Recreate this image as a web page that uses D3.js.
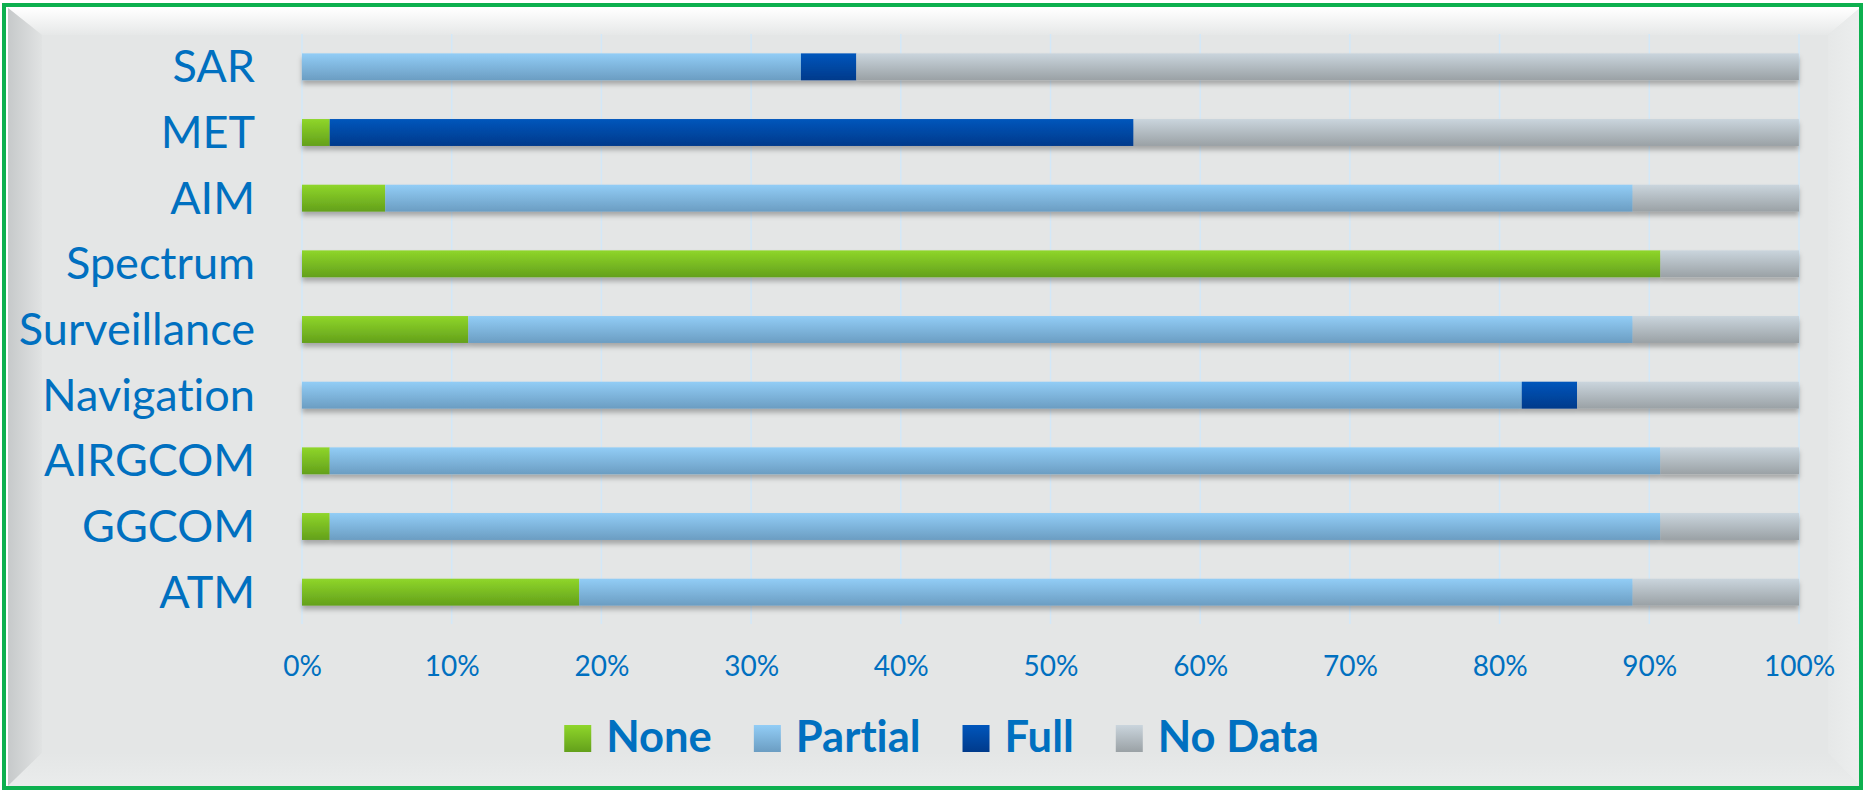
<!DOCTYPE html>
<html>
<head>
<meta charset="utf-8">
<script src="https://d3js.org/d3.v7.min.js"></script>
<style>
  body { margin: 0; background: #ffffff; }
  text { font-family: Lato, "Open Sans", sans-serif; font-variant-ligatures: none; }
</style>
</head>
<body>
<div id="my_dataviz"></div>
<script>
// chart data (percent of states per area)
var categories = ["SAR", "MET", "AIM", "Spectrum", "Surveillance", "Navigation", "AIRGCOM", "GGCOM", "ATM"];
var seriesNames = ["None", "Partial", "Full", "No Data"];
var none    = [0,     1.85,  5.56,  90.74, 11.11, 0,     1.85,  1.85,  18.52];
var partial = [33.33, 0,     83.33, 0,     77.78, 81.48, 88.89, 88.89, 70.37];
var full    = [3.70,  53.70, 0,     0,     0,     3.70,  0,     0,     0];
var noData  = [62.96, 44.44, 11.11, 9.26,  11.11, 14.81, 9.26,  9.26,  11.11];
var xTicks  = [0, 10, 20, 30, 40, 50, 60, 70, 80, 90, 100];

var width = 1864, height = 791;
var textBlue = "#0070c0";

var svg = d3.select("#my_dataviz")
  .append("svg")
    .attr("width", width)
    .attr("height", height);

var defs = svg.append("defs");

// bar gradients, light at the top and darker at the bottom
var gradients = [
  {id: "g-none", top: "#8fd62a", bottom: "#63a01b"},
  {id: "g-partial", top: "#92cdf6", bottom: "#6b9dc2"},
  {id: "g-full", top: "#0056bc", bottom: "#003a8b"},
  {id: "g-nodata", top: "#cad5dd", bottom: "#9aa1a5"}
];
gradients.forEach(function(g) {
  var lg = defs.append("linearGradient")
    .attr("id", g.id)
    .attr("x1", 0).attr("y1", 0).attr("x2", 0).attr("y2", 1);
  lg.append("stop").attr("offset", "0%").attr("stop-color", g.top);
  lg.append("stop").attr("offset", "100%").attr("stop-color", g.bottom);
});

// frame gradients
function vGrad(id, c1, c2, horizontal) {
  var lg = defs.append("linearGradient").attr("id", id)
    .attr("x1", 0).attr("y1", 0)
    .attr("x2", horizontal ? 1 : 0).attr("y2", horizontal ? 0 : 1);
  lg.append("stop").attr("offset", "0%").attr("stop-color", c1);
  lg.append("stop").attr("offset", "100%").attr("stop-color", c2);
}
vGrad("f-top", "#ffffff", "#e6e8e8", false);
vGrad("f-left", "#c6c9ca", "#e1e3e3", true);
vGrad("f-right", "#e6e8e8", "#eceeee", true);
vGrad("f-bottom", "#e4e6e6", "#eaecec", false);

var shadow = defs.append("filter")
  .attr("id", "bar-shadow")
  .attr("x", "-5%").attr("y", "-40%")
  .attr("width", "110%").attr("height", "200%");
shadow.append("feDropShadow")
  .attr("dx", 0).attr("dy", 4)
  .attr("stdDeviation", 2.5)
  .attr("flood-color", "#000")
  .attr("flood-opacity", 0.28);

// bevelled background
var o = {x0: 8, y0: 8, x1: 1860, y1: 786};
var inr = {x0: 42, y0: 35, x1: 1828, y1: 753};
svg.append("rect")
  .attr("x", o.x0).attr("y", o.y0)
  .attr("width", o.x1 - o.x0).attr("height", o.y1 - o.y0)
  .attr("fill", "#e4e6e6");

var bevels = [
  {fill: "url(#f-top)", pts: [[o.x0, o.y0], [o.x1, o.y0], [inr.x1, inr.y0], [inr.x0, inr.y0]]},
  {fill: "url(#f-left)", pts: [[o.x0, o.y0], [inr.x0, inr.y0], [inr.x0, inr.y1], [o.x0, o.y1]]},
  {fill: "url(#f-right)", pts: [[o.x1, o.y0], [o.x1, o.y1], [inr.x1, inr.y1], [inr.x1, inr.y0]]},
  {fill: "url(#f-bottom)", pts: [[o.x0, o.y1], [inr.x0, inr.y1], [inr.x1, inr.y1], [o.x1, o.y1]]}
];
svg.selectAll(".bevel")
  .data(bevels)
  .enter()
  .append("polygon")
    .attr("class", "bevel")
    .attr("points", function(d) { return d.pts.map(function(p) { return p.join(","); }).join(" "); })
    .attr("fill", function(d) { return d.fill; });

// green outer border
svg.append("rect")
  .attr("x", 4).attr("y", 5)
  .attr("width", 1857).attr("height", 783)
  .attr("fill", "none")
  .attr("stroke", "#0db04f")
  .attr("stroke-width", 4);

// scales
var x = d3.scaleLinear()
  .domain([0, 100])
  .range([302, 1799]);

var y = d3.scaleBand()
  .domain(categories)
  .range([34, 625])
  .paddingInner(0.59)
  .paddingOuter(0.295);

// gridlines
svg.append("g")
  .selectAll("line")
  .data(xTicks)
  .enter()
  .append("line")
    .attr("x1", function(d) { return x(d); })
    .attr("x2", function(d) { return x(d); })
    .attr("y1", 34)
    .attr("y2", 624)
    .attr("stroke", "#d3e8f8")
    .attr("stroke-width", 1.5);

// stack the series
var rows = categories.map(function(c, i) {
  return {cat: c, None: none[i], Partial: partial[i], Full: full[i], "No Data": noData[i]};
});
var stacked = d3.stack().keys(seriesNames)(rows);
var fills = {"None": "url(#g-none)", "Partial": "url(#g-partial)", "Full": "url(#g-full)", "No Data": "url(#g-nodata)"};

var rowGroups = svg.append("g")
  .selectAll("g")
  .data(categories)
  .enter()
  .append("g")
    .attr("filter", "url(#bar-shadow)");

rowGroups.each(function(cat, i) {
  var g = d3.select(this);
  stacked.forEach(function(s) {
    var seg = s[i];
    if (seg[1] - seg[0] <= 0) return;
    g.append("rect")
      .attr("x", x(seg[0]))
      .attr("y", y(cat))
      .attr("width", Math.min(x(seg[1]), x(100)) - x(seg[0]))
      .attr("height", y.bandwidth())
      .attr("fill", fills[s.key]);
  });
});

// category labels
svg.append("g")
  .selectAll("text")
  .data(categories)
  .enter()
  .append("text")
    .attr("x", 255)
    .attr("y", function(d) { return y(d) + y.bandwidth() / 2 + 15.5; })
    .attr("text-anchor", "end")
    .attr("fill", textBlue)
    .style("font-size", "45px")
    .text(function(d) { return d; });

// x axis
var xAxis = svg.append("g")
  .attr("transform", "translate(0,652)")
  .call(d3.axisBottom(x).tickValues(xTicks).tickSize(0).tickFormat(function(d) { return d + "%"; }));
xAxis.select(".domain").remove();
xAxis.selectAll("text")
  .attr("y", 0)
  .attr("dy", "0.85em")
  .attr("fill", textBlue)
  .style("font-family", "Lato, sans-serif")
  .style("font-size", "28px");

// legend
var legend = svg.append("g");
var items = legend.selectAll("g")
  .data(seriesNames)
  .enter()
  .append("g");
items.append("rect")
  .attr("y", 725)
  .attr("width", 27)
  .attr("height", 27)
  .attr("fill", function(d) { return fills[d]; });
items.append("text")
  .attr("x", 42)
  .attr("y", 752)
  .attr("fill", textBlue)
  .style("font-size", "43.5px")
  .style("font-weight", "bold")
  .text(function(d) { return d; });

var pos = 0, offsets = [];
items.each(function() {
  offsets.push(pos);
  var w = d3.select(this).select("text").node().getComputedTextLength();
  pos += 42 + w + 42;
});
var total = pos - 42;
var start = 941.5 - total / 2;
items.attr("transform", function(d, i) { return "translate(" + (start + offsets[i]) + ",0)"; });
</script>
</body>
</html>
